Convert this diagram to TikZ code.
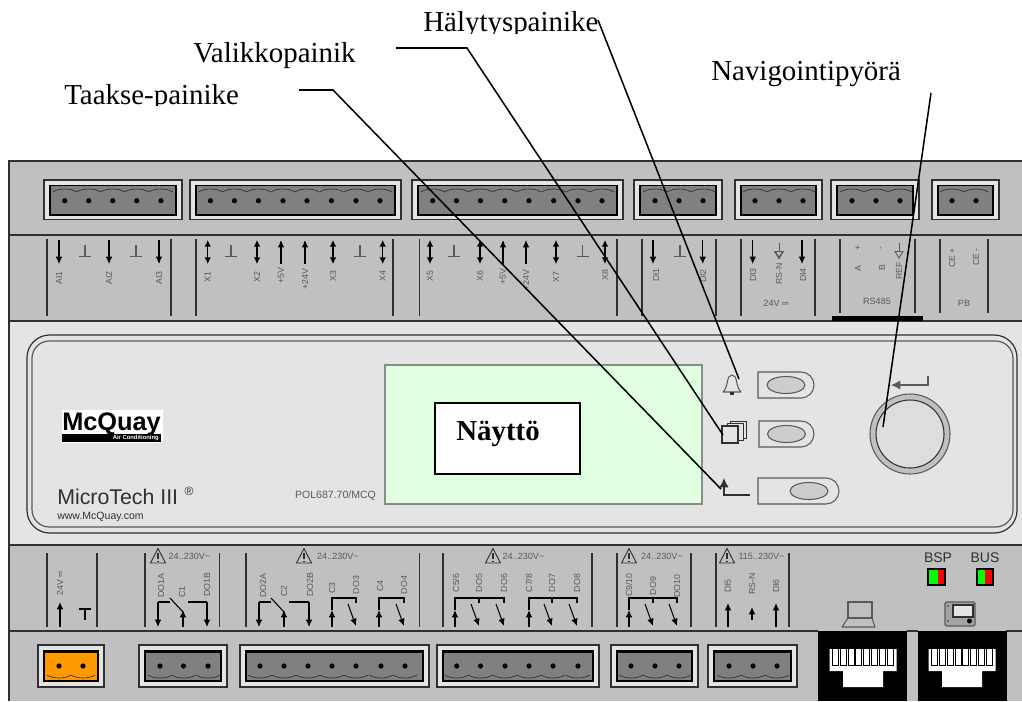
\documentclass[tikz,border=0pt]{standalone}
\usepackage{fontspec}
\setmainfont{Liberation Serif}
\newfontfamily\arialf{Liberation Sans}
\usetikzlibrary{arrows.meta}
\definecolor{band}{HTML}{C0C0C0}
\definecolor{front}{HTML}{E4E4E4}
\definecolor{bodyg}{HTML}{808080}
\definecolor{lcd}{HTML}{E0FFE0}
\definecolor{ink}{HTML}{303030}
\definecolor{soft}{HTML}{5A5A5A}
\definecolor{plug}{HTML}{FF9900}
\newcount\lblno
\tikzset{
  x=0.75pt,y=-0.75pt,
  edge/.style={draw=ink,line width=0.9pt},
  bandline/.style={draw=ink,line width=0.9pt},
  divider/.style={draw=ink,line width=0.9pt},
  frm/.style={draw=ink,line width=0.8pt,fill=front},
  leader/.style={draw=black,line width=1.15pt},
  wire/.style={draw=black,line width=0.8pt},
  dn/.style={wire,-{Latex[length=5.5pt,width=5pt]}},
  both/.style={wire,{Latex[length=5pt,width=5pt]}-{Latex[length=5pt,width=5pt]}},
  hollow/.style={draw=soft,line width=0.7pt,-{Triangle[open,length=6pt,width=7pt]}},
  rlab/.style={font=\arialf\fontsize{6.6}{7}\selectfont,text=soft,inner sep=0pt,rotate=90},
  hlab/.style={font=\arialf\fontsize{6.8}{7}\selectfont,text=soft,inner sep=0pt},
  callout/.style={font=\fontsize{21.7}{24}\selectfont,inner sep=0pt,anchor=base west,text=black},
  btn/.style={draw=soft,line width=0.8pt},
}
\newcommand\rl[3]{\global\advance\lblno by 1 \node[rlab] (r\the\lblno) at (#1,#2) {#3};}
\newcommand\hl[3]{\global\advance\lblno by 1 \node[hlab] (h\the\lblno) at (#1,#2) {#3};}
\newcommand\topconn[3]{%
  \draw[frm] (#1,180) rectangle (#2,219.7);
  \draw[draw=black,line width=0.8pt,fill=bodyg] (#1+6,185.5) rectangle (#2-6,215);
  \draw[black,line width=1.5pt] (#1+6,214.5) -- (#2-6,214.5);
  \draw[black,line width=1.1pt] (#1+6.5,186) -- (#1+6.5,215);
  \foreach \p in {#3} {
    \fill[black] (\p,200.7) circle (2.6);
    \draw[ink,line width=0.5pt] (\p-12,192) .. controls (\p-6,188) and (\p+6,188) .. (\p+12,192);
  }
}
\newcommand\botconn[4][bodyg]{%
  \draw[frm] (#2,645) rectangle (#3,687);
  \draw[draw=black,line width=0.8pt,fill=#1] (#2+6,651) rectangle (#3-6,681);
  \draw[black,line width=1.5pt] (#2+6,651.5) -- (#3-6,651.5);
  \foreach \p in {#4} {
    \fill[black] (\p,666) circle (2.6);
    \draw[ink,line width=0.5pt] (\p-12,675) .. controls (\p-6,679) and (\p+6,679) .. (\p+12,675);
  }
}
\newcommand\gnd[1]{\draw[draw=soft,line width=0.8pt] (#1,245) -- (#1,256.5) (#1-6,256.5) -- (#1+6,256.5);}
\newcommand\warn[1]{%
  \draw[draw=ink,line width=0.7pt,line join=round] (#1,548.5) -- (#1+7.5,563) -- (#1-7.5,563) -- cycle;
  \draw[draw=ink,line width=0.9pt] (#1,553) -- (#1,559) (#1,560.5) -- (#1,562);
}
\newcommand\twosw[3]{%
  \draw[dn] (#1,627) -- (#1,610);
  \draw[wire] (#1,610) -- (#1,598) -- (#3,598) -- (#3,603);
  \draw[wire] (#2,598) -- (#2,603);
  \draw[dn] (#2-8,604) -- (#2,626);
  \draw[dn] (#3-8,604) -- (#3,626);
}
\newcommand\onesw[2]{%
  \draw[dn] (#1,627) -- (#1,610);
  \draw[wire] (#1,610) -- (#1,598) -- (#2,598) -- (#2,603);
  \draw[dn] (#2-8,604) -- (#2,626);
}
\newcommand\changeover[3]{%
  \draw[wire] (#1+12,602) -- (#1,602);
  \draw[dn] (#1,602) -- (#1,627);
  \draw[wire] (#2-13,598) -- (#2,612);
  \draw[dn] (#2,627) -- (#2,610);
  \draw[wire] (#2+5,602) -- (#3,602);
  \draw[dn] (#3,602) -- (#3,627);
}
\newcommand\rjport[4]{%
  \fill[black] (#1,631) rectangle (#1+89,701);
  \fill[white] (#2,649) -- (#2+67,649) -- (#2+67,671) -- (#3+40,671) -- (#3+40,687) -- (#3,687) -- (#3,671) -- (#2,671) -- cycle;
  \foreach \i in {0,...,7} {
    \draw[black,line width=0.75pt] (#2+3+\i*7.8,649) -- (#2+3+\i*7.8,#4) -- (#2+3+\i*7.8+6,#4) -- (#2+3+\i*7.8+6,649);
  }
}
\newcommand\pbtn[4]{% left, top, right-end of straight part, ellipse centre x
  \draw[btn] (#1,#2) -- (#3,#2) arc[start angle=-90,end angle=90,radius=13] -- (#1,#2+26) -- cycle;
  \draw[btn,fill=front!90!black] (#4,#2+13) ellipse (19 and 8.5);
}
\begin{document}
\begin{tikzpicture}
\useasboundingbox (0,0) rectangle (1022,701);
\fill[white] (0,0) rectangle (1022,701);
% device body
\fill[band] (9,161) rectangle (1022,701);
\draw[edge] (1022,161) -- (9,161) -- (9,701);
\fill[front] (10,321) rectangle (1022,545);
\draw[bandline] (9,235) -- (1022,235);
\draw[bandline] (9,321) -- (1022,321);
\draw[bandline] (9,545) -- (1022,545);
\draw[bandline] (9,631) -- (818,631) (907,631) -- (918,631) (1006,631) -- (1022,631);
% top connectors
\topconn{44}{182}{64.7,88.7,112.7,136.7,161}
\topconn{190}{401}{210.5,234.5,258.5,283,307,331.5,356,380}
\topconn{412}{623}{432.7,456.5,480.5,504.7,529,553.7,578,602}
\topconn{634}{722}{655,679,703}
\topconn{735}{822}{755,779,803}
\topconn{831}{919}{852,876,900}
\topconn{932}{999}{952,976}
% top band dividers
\foreach \d in {47,171,196,393,419.7,617,642,716,741,815} \draw[divider] (\d,239) -- (\d,316);
\foreach \d in {840,915,940,988} \draw[divider] (\d,239) -- (\d,313);
\fill[black] (832,316) rectangle (923,321);
% top band symbols
\foreach \a in {59,109,159,653,702.7,752.7,802} \draw[dn] (\a,240) -- (\a,264);
\foreach \a in {207.7,257,333,382.7,430,480,556,605} \draw[both] (\a,240) -- (\a,264);
\foreach \a in {281,305,503,526} \draw[dn] (\a,264) -- (\a,240);
\foreach \a in {85,136,231,360,454,582.7,680} \gnd{\a}
\draw[hollow] (779,243) -- (779,259);
\draw[hollow] (899,243) -- (899,259);
\rl{59}{278}{AI1}\rl{109}{278}{AI2}\rl{159}{278}{AI3}
\rl{207.7}{277}{X1}\rl{257}{277}{X2}\rl{281}{276}{+5V}\rl{305}{279}{+24V}\rl{333}{276}{X3}\rl{382.7}{276}{X4}
\rl{430}{276}{X5}\rl{480}{276}{X6}\rl{503}{277}{+5V}\rl{526}{280}{+24V}\rl{556}{277}{X7}\rl{605}{275}{X8}
\rl{656}{275}{DI1}\rl{703}{276}{DI2}
\rl{753}{275}{DI3}\rl{779}{274}{RS-N}\rl{803}{275}{DI4}
\rl{858}{248}{+}\rl{882}{248}{-}
\rl{858}{269}{A}\rl{882}{268}{B}\rl{899}{271}{REF}
\rl{952}{258}{CE +}\rl{976}{257}{CE -}
\hl{776}{303}{24V ═}\hl{877}{301}{RS485}\hl{964}{303}{PB}
% front panel
\draw[draw=ink,line width=0.9pt,rounded corners=17pt] (27,335) rectangle (1017,533);
\draw[draw=soft,line width=0.9pt,rounded corners=13pt] (32,341) rectangle (1013,527);
\draw[draw=soft!70!white,fill=lcd,line width=0.8pt] (385,365) rectangle (702,504);
\node[draw=black,fill=white,line width=1pt,minimum width=108.75pt,minimum height=53.25pt,inner sep=0pt] (display) at (507.5,438.5) {};
\node[font=\fontsize{21.7}{24}\selectfont\bfseries,inner sep=0pt,anchor=base west] (displaytext) at (456,440) {Näyttö};
% logo
\fill[white] (62,410) rectangle (163,443);
\node[font=\arialf\bfseries\fontsize{19}{20}\selectfont,inner sep=0pt,anchor=base west] (mcq) at (62,430) {McQuay};
\fill[black] (62,434) rectangle (161,442);
\node[font=\arialf\bfseries\fontsize{4.4}{5}\selectfont,text=white,inner sep=0pt,anchor=east] (air) at (159,438) {Air Conditioning};
\node[font=\arialf\fontsize{16}{18}\selectfont,text=ink,inner sep=0pt,anchor=base west] (mt) at (57,504) {MicroTech III};
\node[font=\arialf\fontsize{9}{10}\selectfont,text=ink,inner sep=0pt] (reg) at (189,491) {®};
\node[font=\arialf\fontsize{7.9}{9}\selectfont,text=ink,inner sep=0pt,anchor=base west] (www) at (57,519) {www.McQuay.com};
\node[font=\arialf\fontsize{7.9}{9}\selectfont,text=soft,inner sep=0pt] (pol) at (335.5,496) {POL687.70/MCQ};
% buttons
\pbtn{758}{372}{801}{786}
\pbtn{759}{421}{801}{786.5}
\pbtn{758}{478}{826}{809}
% bell
\draw[draw=soft,line width=0.8pt,line join=round] (723,392) .. controls (729,386) and (726,375) .. (732,375) .. controls (738,375) and (735,386) .. (741,392) -- cycle;
\fill[ink] (730,392) rectangle (734,395);
% stacked pages
\draw[draw=ink,line width=0.7pt,fill=front] (730,421) rectangle (746,438);
\draw[draw=ink,line width=0.7pt,fill=front] (727,423) rectangle (743,440);
\draw[draw=ink,line width=0.9pt,fill=front] (722,426) rectangle (738,443);
% back symbol
\draw[draw=ink,line width=0.9pt,-{Latex[length=7pt,width=7pt]}] (750,495) -- (724,495) -- (724,478);
% knob
\draw[draw=soft,line width=0.8pt,fill=band] (910,434) circle (40);
\draw[draw=ink,line width=0.8pt,fill=front!97!black] (910,434) circle (34);
\draw[draw=soft,line width=1pt,-{Latex[length=7pt,width=7pt]}] (928,376) -- (928,385) -- (891,385);
% bottom band
\foreach \d in {47,97,145,219.5,246,419.5,443,592,617,691,716,789} \draw[divider] (\d,553) -- (\d,627);
\draw[dn] (60,627) -- (60,602);
\draw[wire] (85,609) -- (85,620) (79,609) -- (91,609);
\rl{60}{583}{24V ═}
\warn{158}\hl{189.5}{556}{24..230V\textasciitilde}
\warn{304}\hl{338}{556}{24..230V\textasciitilde}
\warn{493}\hl{523.5}{556}{24..230V\textasciitilde}
\warn{629}\hl{662}{556}{24..230V\textasciitilde}
\warn{727}\hl{761.5}{556}{115..230V\textasciitilde}
\changeover{158}{183}{207}
\changeover{259}{284}{309}
\rl{161}{586}{DO1A}\rl{182}{592}{C1}\rl{207}{585}{DO1B}
\rl{263}{586}{DO2A}\rl{284}{591}{C2}\rl{310}{585}{DO2B}
\onesw{332}{356}\onesw{379}{404}
\rl{332}{588}{C3}\rl{356}{585}{DO3}\rl{380}{586}{C4}\rl{404}{585}{DO4}
\twosw{455}{479}{504}\twosw{529}{552}{577}\twosw{629}{653}{677}
\rl{456}{583}{C5/6}\rl{479}{583}{DO5}\rl{504}{583}{DO6}
\rl{529}{583}{C7/8}\rl{552}{583}{DO7}\rl{577}{583}{DO8}
\rl{629}{585}{C9/10}\rl{653}{586}{DO9}\rl{677}{586}{DO10}
\draw[dn] (728,627) -- (728,603);
\draw[dn] (752,620) -- (752,607);
\draw[dn] (776,627) -- (776,603);
\rl{728}{586}{DI5}\rl{752}{584}{RS-N}\rl{776}{586}{DI6}
% bottom connectors
\botconn[plug]{38}{104}{59,83}
\botconn{139}{227}{160,183.5,208}
\botconn{240}{429}{260,284,308,332,356,381,405}
\botconn{437}{599}{456.7,480.5,505,529,553,578}
\botconn{611}{698}{631,655,679}
\botconn{708}{797}{729,753,777}
% LAN ports
\rjport{818}{829.5}{843}{665}
\rjport{918}{928.7}{942}{665}
% laptop
\draw[draw=soft,line width=1pt] (848,602) rectangle (872,618);
\draw[draw=soft,line width=0.8pt,line join=round] (848,618) -- (842,627) -- (875,627) -- (872,618);
% terminal
\draw[draw=soft,line width=1pt,fill=band!85!black,rounded corners=1.5pt] (945,602) rectangle (975,626);
\draw[draw=ink,line width=0.8pt,fill=front] (953,605) rectangle (973,617);
\fill[black] (969.5,621) circle (2.5);
\fill[ink] (948,606) circle (0.8) (948,621) circle (0.8);
% LEDs
\node[font=\arialf\fontsize{10.5}{12}\selectfont,text=ink,inner sep=0pt] (bsp) at (938,558) {BSP};
\node[font=\arialf\fontsize{10.5}{12}\selectfont,text=ink,inner sep=0pt] (bus) at (985,558) {BUS};
\fill[green] (928,569) rectangle (938,585);
\fill[red] (938,569) rectangle (945,585);
\draw[draw=black,line width=0.9pt] (928,569) rectangle (945,585);
\fill[green] (977,569) rectangle (985,585);
\fill[red] (985,569) rectangle (993,585);
\draw[draw=black,line width=0.9pt] (977,569) rectangle (993,585);
% callouts
\begin{scope}
\clip (400,0) rectangle (620,33);
\node[callout] (alarm) at (423,31.7) {Hälytyspainike};
\end{scope}
\node[callout] (menu) at (193,62) {Valikkopainik};
\begin{scope}
\clip (40,60) rectangle (260,105);
\node[callout] (back) at (64,104) {Taakse-painike};
\end{scope}
\node[callout] (nav) at (711,80) {Navigointipyörä};
\coordinate (alarmS) at (598,20);
\coordinate (alarmE) at (739,379);
\coordinate (menuS) at (396,48);
\coordinate (menuK) at (467,48);
\coordinate (menuE) at (723,435);
\coordinate (backS) at (299,90);
\coordinate (backK) at (333,90);
\coordinate (backE) at (721,489);
\coordinate (navS) at (931,93);
\coordinate (navE) at (883,427);
\draw[leader] (alarmS) -- (alarmE);
\draw[leader] (menuS) -- (menuK) -- (menuE);
\draw[leader] (backS) -- (backK) -- (backE);
\draw[leader] (navS) -- (navE);
\end{tikzpicture}
\end{document}
